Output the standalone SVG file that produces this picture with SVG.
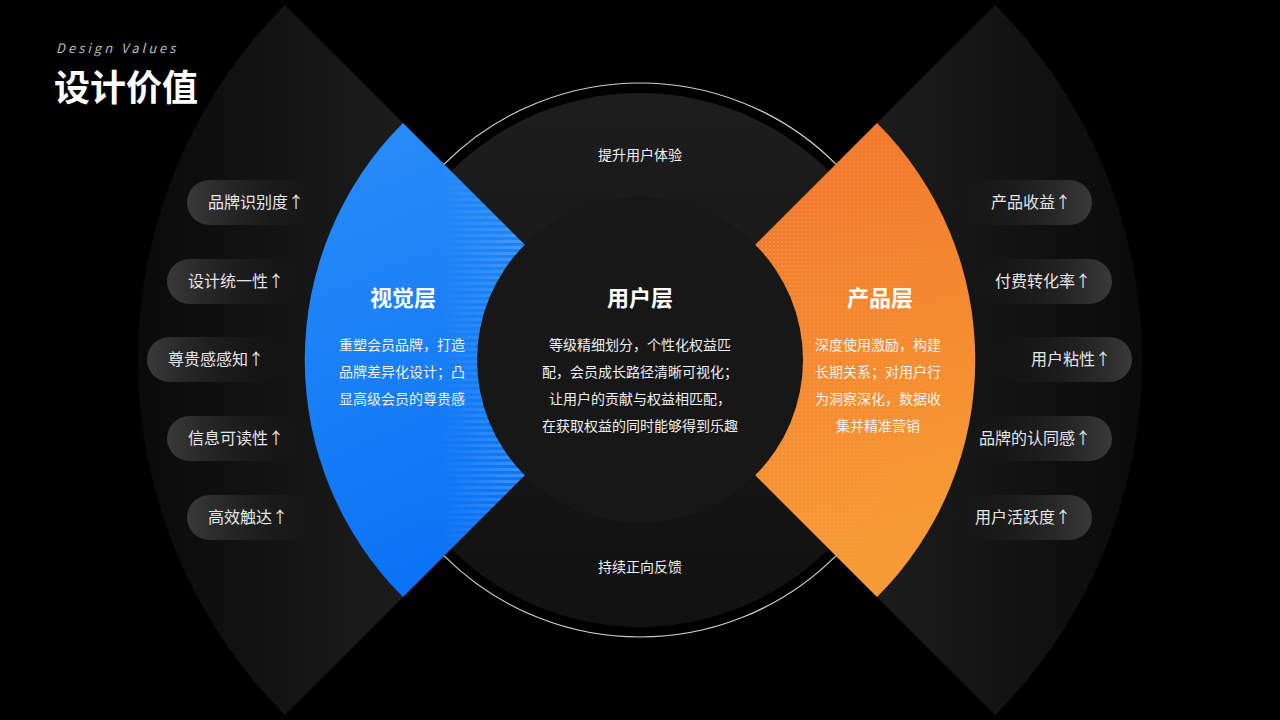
<svg xmlns="http://www.w3.org/2000/svg" width="1280" height="720" viewBox="0 0 1280 720">
<defs>
<style>
.t{font-family:"Noto Sans CJK SC","Noto Sans",sans-serif;fill:#fff}
.pl{font-size:16px;fill:#e6e6e6}
.h{font-size:22px;font-weight:bold}
.b{font-size:14px;fill:#f0f0f0}
</style>
<linearGradient id="gl" x1="0" y1="0" x2="1" y2="0"><stop offset="0" stop-color="#0a0a0a"/><stop offset="1" stop-color="#2c2c2c"/></linearGradient>
<linearGradient id="gr" x1="1" y1="0" x2="0" y2="0"><stop offset="0" stop-color="#0a0a0a"/><stop offset="1" stop-color="#2c2c2c"/></linearGradient>
<linearGradient id="blue" x1="0" y1="0" x2="0.3" y2="1"><stop offset="0" stop-color="#2a8ef8"/><stop offset="1" stop-color="#0a72f5"/></linearGradient>
<linearGradient id="orange" x1="0" y1="0" x2="0.3" y2="1"><stop offset="0" stop-color="#f0702a"/><stop offset="1" stop-color="#f79a34"/></linearGradient>
<linearGradient id="pillL" x1="0" y1="0" x2="1" y2="0"><stop offset="0" stop-color="#3a3a3a"/><stop offset="1" stop-color="#1a1a1a" stop-opacity="0"/></linearGradient>
<linearGradient id="pillR" x1="1" y1="0" x2="0" y2="0"><stop offset="0" stop-color="#3a3a3a"/><stop offset="1" stop-color="#1a1a1a" stop-opacity="0"/></linearGradient>
<linearGradient id="ring" x1="0" y1="0" x2="0" y2="1"><stop offset="0" stop-color="#1d1d1d"/><stop offset="1" stop-color="#111"/></linearGradient>
<pattern id="stripe" width="8" height="6" patternUnits="userSpaceOnUse"><rect width="8" height="3" fill="#7fbaff" opacity="0.45"/></pattern>
<pattern id="dots" width="4" height="4" patternUnits="userSpaceOnUse"><circle cx="2" cy="2" r="0.9" fill="#ffb070" opacity="0.5"/></pattern>
<linearGradient id="fadeL" x1="0" y1="0" x2="1" y2="0"><stop offset="0" stop-color="#fff" stop-opacity="0"/><stop offset="1" stop-color="#fff" stop-opacity="1"/></linearGradient>
<mask id="mL"><rect x="440" y="100" width="90" height="520" fill="url(#fadeL)"/></mask>
<linearGradient id="fadeR" x1="1" y1="0" x2="0" y2="0"><stop offset="0" stop-color="#fff" stop-opacity="0"/><stop offset="1" stop-color="#fff" stop-opacity="1"/></linearGradient>
<mask id="mR"><rect x="750" y="100" width="230" height="520" fill="url(#fadeR)"/></mask>
</defs>
<rect width="1280" height="720" fill="#000"/>
<text x="56" y="53" class="t" font-size="13" font-style="italic" letter-spacing="3" style="fill:#bbb">Design Values</text>
<text x="54" y="101" class="t" font-size="36" font-weight="bold">设计价值</text>

<g id="outer-left"><path d="M640 360 L285 5 A502 502 0 0 0 285 715 Z" fill="url(#gl)"/></g>
<g id="outer-right"><path d="M640 360 L995 5 A502 502 0 0 1 995 715 Z" fill="url(#gr)"/></g>

<g id="ring-node">
<circle cx="640" cy="360" r="277" fill="#000" stroke="#cfcfcf" stroke-width="1.2"/>
<circle cx="640" cy="360" r="267" fill="url(#ring)"/>
<text x="640" y="160" class="t b" font-size="15" text-anchor="middle">提升用户体验</text>
<text x="640" y="572" class="t b" font-size="15" text-anchor="middle">持续正向反馈</text>
</g>

<g id="visual-layer">
<path d="M640 360 L403 123 A335 335 0 0 0 403 597 Z" fill="url(#blue)"/>
<path d="M640 360 L403 123 A335 335 0 0 0 403 597 Z" fill="url(#stripe)" mask="url(#mL)"/>
<text x="403" y="306" class="t h" text-anchor="middle">视觉层</text>
<text x="402" y="350" class="t b" text-anchor="middle">重塑会员品牌，打造</text>
<text x="402" y="377" class="t b" text-anchor="middle">品牌差异化设计；凸</text>
<text x="402" y="404" class="t b" text-anchor="middle">显高级会员的尊贵感</text>
</g>

<g id="product-layer">
<path d="M640 360 L877 123 A335 335 0 0 1 877 597 Z" fill="url(#orange)"/>
<path d="M640 360 L877 123 A335 335 0 0 1 877 597 Z" fill="url(#dots)" mask="url(#mR)"/>
<text x="880" y="306" class="t h" text-anchor="middle">产品层</text>
<text x="878" y="350" class="t b" text-anchor="middle">深度使用激励，构建</text>
<text x="878" y="377" class="t b" text-anchor="middle">长期关系；对用户行</text>
<text x="878" y="404" class="t b" text-anchor="middle">为洞察深化，数据收</text>
<text x="878" y="431" class="t b" text-anchor="middle">集并精准营销</text>
</g>

<g id="user-layer">
<circle cx="640" cy="360" r="163" fill="#171717"/>
<text x="640" y="306" class="t h" text-anchor="middle">用户层</text>
<text x="640" y="350" class="t b" text-anchor="middle">等级精细划分，个性化权益匹</text>
<text x="640" y="377" class="t b" text-anchor="middle">配，会员成长路径清晰可视化；</text>
<text x="640" y="404" class="t b" text-anchor="middle">让用户的贡献与权益相匹配，</text>
<text x="640" y="431" class="t b" text-anchor="middle">在获取权益的同时能够得到乐趣</text>
</g>

<g id="pills-left">
<g id="p-l1"><rect x="187" y="180" width="140" height="45" rx="22.5" fill="url(#pillL)"/><text x="208" y="208" class="t pl">品牌识别度↑</text></g>
<g id="p-l2"><rect x="167" y="259" width="140" height="45" rx="22.5" fill="url(#pillL)"/><text x="188" y="287" class="t pl">设计统一性↑</text></g>
<g id="p-l3"><rect x="147" y="337" width="140" height="45" rx="22.5" fill="url(#pillL)"/><text x="168" y="365" class="t pl">尊贵感感知↑</text></g>
<g id="p-l4"><rect x="167" y="416" width="140" height="45" rx="22.5" fill="url(#pillL)"/><text x="188" y="444" class="t pl">信息可读性↑</text></g>
<g id="p-l5"><rect x="187" y="495" width="140" height="45" rx="22.5" fill="url(#pillL)"/><text x="208" y="523" class="t pl">高效触达↑</text></g>
</g>
<g id="pills-right">
<g id="p-r1"><rect x="952" y="180" width="140" height="45" rx="22.5" fill="url(#pillR)"/><text x="1071" y="208" class="t pl" text-anchor="end">产品收益↑</text></g>
<g id="p-r2"><rect x="972" y="259" width="140" height="45" rx="22.5" fill="url(#pillR)"/><text x="1091" y="287" class="t pl" text-anchor="end">付费转化率↑</text></g>
<g id="p-r3"><rect x="992" y="337" width="140" height="45" rx="22.5" fill="url(#pillR)"/><text x="1111" y="365" class="t pl" text-anchor="end">用户粘性↑</text></g>
<g id="p-r4"><rect x="972" y="416" width="140" height="45" rx="22.5" fill="url(#pillR)"/><text x="1091" y="444" class="t pl" text-anchor="end">品牌的认同感↑</text></g>
<g id="p-r5"><rect x="952" y="495" width="140" height="45" rx="22.5" fill="url(#pillR)"/><text x="1071" y="523" class="t pl" text-anchor="end">用户活跃度↑</text></g>
</g>
<g id="connectors"/>
</svg>
